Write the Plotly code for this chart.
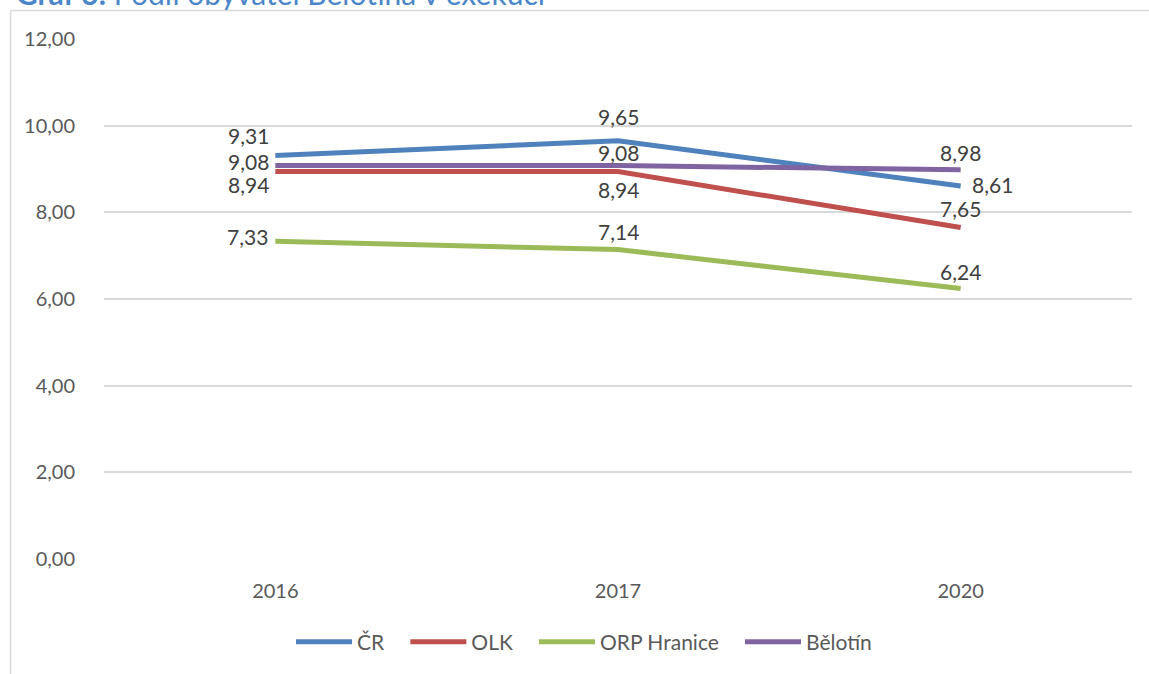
import plotly.graph_objects as go

years = ["2016", "2017", "2020"]
cr = [9.31, 9.65, 8.61]
olk = [8.94, 8.94, 7.65]
orp = [7.33, 7.14, 6.24]
belotin = [9.08, 9.08, 8.98]

series_names = ["ČR", "OLK", "ORP Hranice", "Bělotín"]
colors = ["#4F81BD", "#C0504D", "#9BBB59", "#8064A2"]
# label offsets in pixels (dx right, dy down) for each point of each series
label_dx = [[-27, 0, 32], [-27, 0, 0], [-28, 0, 0], [-27, 0, 0]]
label_dy = [[-20, -24, -1], [13, 18, -19], [-5, -18, -17], [-4, -13, -17]]

W, H = 1149, 674
L, R, T, B = 103.5, 16.5, 39, 115
pw, ph = W - L - R, H - T - B

def px(x):
    return (x - L) / pw

def py(y):
    return (H - B - y) / ph

FONT = "Lato, 'Open Sans', sans-serif"
TXT = "#404040"
GRAY = "#595959"

fig = go.Figure()
annotations = []
all_vals = [cr, olk, orp, belotin]
for i, (name, vals, col) in enumerate(zip(series_names, all_vals, colors)):
    fig.add_trace(go.Scatter(
        x=years, y=vals, name=name + "\u00a0\u00a0\u00a0", mode="lines",
        line=dict(color=col, width=5),
        hoverinfo="x+y+name",
    ))
    for j, v in enumerate(vals):
        annotations.append(dict(
            x=j, y=v, xref="x", yref="y", showarrow=False,
            text=f"{v:.2f}".replace(".", ","),
            xshift=label_dx[i][j], yshift=-label_dy[i][j],
            font=dict(size=21, color=TXT, family=FONT),
        ))

annotations.append(dict(
    xref="paper", yref="paper", x=px(13), y=py(-7), xanchor="left", yanchor="middle",
    showarrow=False,
    text="<b>Graf 6:</b> Podíl obyvatel Bělotína v exekuci",
    font=dict(size=30, color="#4A86C8", family=FONT),
))

fig.update_layout(
    width=W, height=H,
    margin=dict(l=L, r=R, t=T, b=B),
    paper_bgcolor="white", plot_bgcolor="white",
    separators=", ",
    font=dict(family=FONT, size=20, color=GRAY),
    showlegend=True,
    legend=dict(orientation="h", x=px(592), xanchor="center", y=py(642), yanchor="middle",
                font=dict(size=21, color=GRAY), traceorder="normal", itemwidth=56),
    xaxis=dict(type="category", range=[-0.5, 2.5], showgrid=False, showline=False,
               ticks="outside", ticklen=14, tickcolor="rgba(0,0,0,0)",
               tickfont=dict(size=20, color=GRAY), zeroline=False),
    yaxis=dict(range=[0, 12], dtick=2, tickformat=".2f", showgrid=True, gridcolor="#D9D9D9",
               gridwidth=1.5, zeroline=False, showline=False,
               ticks="outside", ticklen=24, tickcolor="rgba(0,0,0,0)",
               tickfont=dict(size=20, color=GRAY)),
    shapes=[
        dict(type="line", xref="paper", yref="paper", x0=px(10), x1=px(1160), y0=py(10.5), y1=py(10.5),
             line=dict(color="#D9D9D9", width=1.5)),
        dict(type="line", xref="paper", yref="paper", x0=px(10), x1=px(10), y0=py(10.5), y1=py(690),
             line=dict(color="#D9D9D9", width=1.5)),
    ],
    annotations=annotations,
)

fig.write_html("out.html", config={"displayModeBar": False},
               post_script="document.body.style.margin='0';document.body.style.overflow='hidden';")
